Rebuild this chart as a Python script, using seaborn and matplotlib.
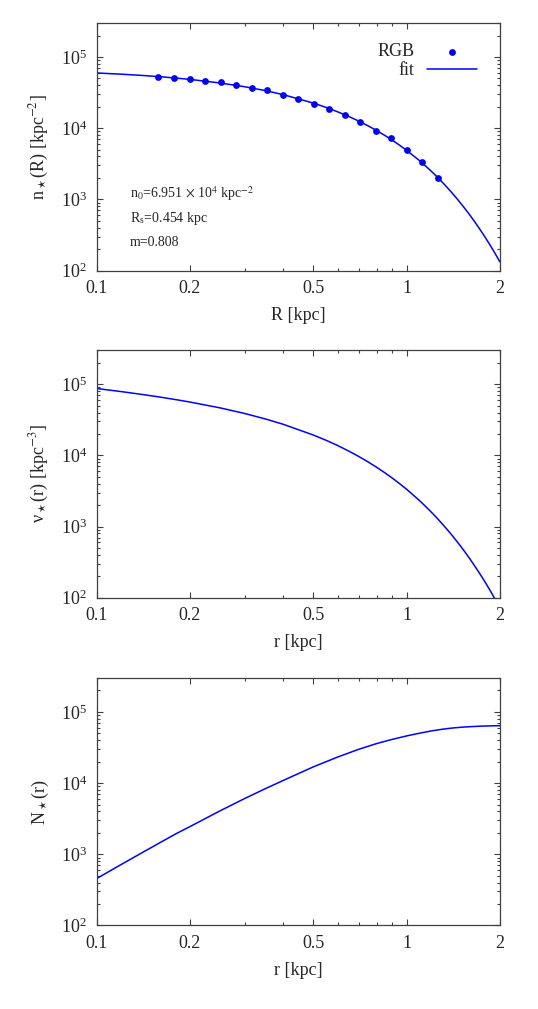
import matplotlib
matplotlib.use('Agg')
import matplotlib.pyplot as plt
import pandas as pd
import seaborn as sns
from matplotlib.ticker import (FixedLocator, FixedFormatter, LogLocator,
                               LogFormatterMathtext, NullFormatter)

# RGB star counts, surface density n*(R)
rgb_R = [0.158, 0.178, 0.200, 0.224, 0.251, 0.282, 0.316, 0.355, 0.398, 0.447,
         0.501, 0.562, 0.631, 0.708, 0.794, 0.891, 1.000, 1.122, 1.259]
rgb_n = [52700, 50000, 49450, 46300, 43900, 40250, 36500, 33850, 29100, 25550,
         21700, 18850, 15500, 12370, 9140, 7280, 4870, 3340, 1963]

# fitted profile
fit_R = [0.1, 0.12, 0.14, 0.16, 0.18, 0.2, 0.25, 0.3, 0.35, 0.4, 0.5, 0.55,
         0.6, 0.65, 0.7, 0.75, 0.8, 0.85, 0.9, 0.95, 1.0, 1.1, 1.15, 1.2, 1.25,
         1.3, 1.35, 1.4, 1.45, 1.5, 1.55, 1.6, 1.65, 1.7, 1.75, 1.8, 1.85, 1.9,
         1.95, 2.0]
fit_n = [59600, 57300, 55050, 52800, 50550, 48400, 43100, 38200, 33700, 29550,
         22500, 19560, 16900, 14620, 12600, 10800, 9250, 7910, 6750, 5740, 4880,
         3500, 2951, 2490, 2094, 1760, 1475, 1235, 1033, 862, 719, 600, 498,
         413, 343, 284, 235, 194, 160, 132]

# deprojected density nu*(r)
nu_r = [0.1, 0.12, 0.14, 0.16, 0.18, 0.2, 0.25, 0.3, 0.35, 0.4, 0.5, 0.55,
        0.6, 0.65, 0.7, 0.75, 0.8, 0.85, 0.9, 0.95, 1.0, 1.1, 1.15, 1.2, 1.25,
        1.3, 1.35, 1.4, 1.45, 1.5, 1.55, 1.6, 1.65, 1.7, 1.75, 1.8, 1.85, 1.9,
        1.95, 2.0]
nu_vals = [86900, 78700, 71800, 65900, 60700, 56100, 46500, 38800, 32500,
           27300, 19300, 16270, 13700, 11510, 9670, 8115, 6810, 5700, 4780,
           3990, 3340, 2320, 1926, 1600, 1330, 1100, 913, 756, 624, 516, 426,
           351, 288, 237, 195, 160, 131, 107, 88, 72]

# cumulative number N*(r)
N_r = [0.1, 0.12, 0.14, 0.16, 0.18, 0.2, 0.25, 0.3, 0.35, 0.4, 0.5, 0.6, 0.7,
       0.8, 0.9, 1.0, 1.1, 1.2, 1.3, 1.4, 1.5, 1.6, 1.7, 1.8, 1.9, 2.0]
N_vals = [456, 719, 1050, 1456, 1936, 2450, 4075, 6060, 8350, 10900, 16900,
          23300, 29800, 35900, 41200, 46000, 50200, 54000, 57000, 59300, 60900,
          62000, 62800, 63400, 63800, 64100]

fit_params = [r'n$_0$=6.951 $\times$ 10$^4$ kpc$^{-2}$',
              r'R$_\mathregular{s}$=0.454 kpc',
              'm=0.808']

x_ticks = [0.1, 0.2, 0.5, 1, 2]
x_ticklabels = ['0.1', '0.2', '0.5', '1', '2']
x_minor = [0.3, 0.4, 0.6, 0.7, 0.8, 0.9]

sns.set_style('ticks')
plt.rcParams['font.family'] = ['Liberation Serif', 'DejaVu Serif']
plt.rcParams['mathtext.fontset'] = 'stix'

FS = 13
AX_COL = '#404040'


def style_axis(ax, xlabel, ylabel):
    ax.set_xscale('log')
    ax.set_yscale('log')
    ax.set_xlim(0.1, 2)
    ax.set_ylim(100, 3e5)
    ax.xaxis.set_major_locator(FixedLocator(x_ticks))
    ax.xaxis.set_major_formatter(FixedFormatter(x_ticklabels))
    ax.xaxis.set_minor_locator(FixedLocator(x_minor))
    ax.xaxis.set_minor_formatter(NullFormatter())
    ax.yaxis.set_major_locator(LogLocator(base=10, numticks=10))
    ax.yaxis.set_minor_locator(LogLocator(base=10, subs=range(2, 10), numticks=20))
    ax.yaxis.set_major_formatter(LogFormatterMathtext())
    ax.yaxis.set_minor_formatter(NullFormatter())
    ax.tick_params(which='both', direction='in', top=True, right=True,
                   color=AX_COL, width=0.8, labelsize=FS)
    ax.tick_params(which='major', length=4.5, pad=7)
    ax.tick_params(which='minor', length=2.5)
    for s in ax.spines.values():
        s.set_color(AX_COL)
        s.set_linewidth(0.9)
    ax.set_xlabel(xlabel, fontsize=FS, labelpad=7)
    ax.set_ylabel(ylabel, fontsize=FS, labelpad=7)


fig = plt.figure(figsize=(5.38, 10.09), dpi=100)
left, width, height = 0.1797, 0.7496, 0.2453
ax1 = fig.add_axes([left, 0.7319, width, height])
ax2 = fig.add_axes([left, 0.4076, width, height])
ax3 = fig.add_axes([left, 0.0828, width, height])

# top panel: data + fit
df_rgb = pd.DataFrame({'R': rgb_R, 'n': rgb_n})
df_fit = pd.DataFrame({'R': fit_R, 'n': fit_n})
sns.scatterplot(data=df_rgb, x='R', y='n', ax=ax1, color='blue', s=24,
                linewidth=0, label='RGB', zorder=3)
sns.lineplot(data=df_fit, x='R', y='n', ax=ax1, color='blue', lw=1.1,
             label='fit', estimator=None, zorder=2)
style_axis(ax1, 'R [kpc]', r'n$_\star$(R) [kpc$^{-2}$]')
ax1.legend(loc='upper right', bbox_to_anchor=(0.944, 0.918), frameon=False,
           markerfirst=False, fontsize=FS, handlelength=2.8, handletextpad=0.7,
           labelspacing=0.1, borderpad=0, borderaxespad=0)
for txt, yy in zip(fit_params, [0.312, 0.211, 0.114]):
    ax1.text(0.0826, yy, txt, transform=ax1.transAxes, fontsize=10, va='center')

# middle panel: deprojected density
df_nu = pd.DataFrame({'r': nu_r, 'nu': nu_vals})
sns.lineplot(data=df_nu, x='r', y='nu', ax=ax2, color='blue', lw=1.1,
             estimator=None)
style_axis(ax2, 'r [kpc]', r'ν$_\star$(r) [kpc$^{-3}$]')

# bottom panel: cumulative number
df_N = pd.DataFrame({'r': N_r, 'N': N_vals})
sns.lineplot(data=df_N, x='r', y='N', ax=ax3, color='blue', lw=1.1,
             estimator=None)
style_axis(ax3, 'r [kpc]', r'N$_\star$(r)')

fig.savefig('out.png', dpi=100, facecolor='white')
plt.close(fig)
